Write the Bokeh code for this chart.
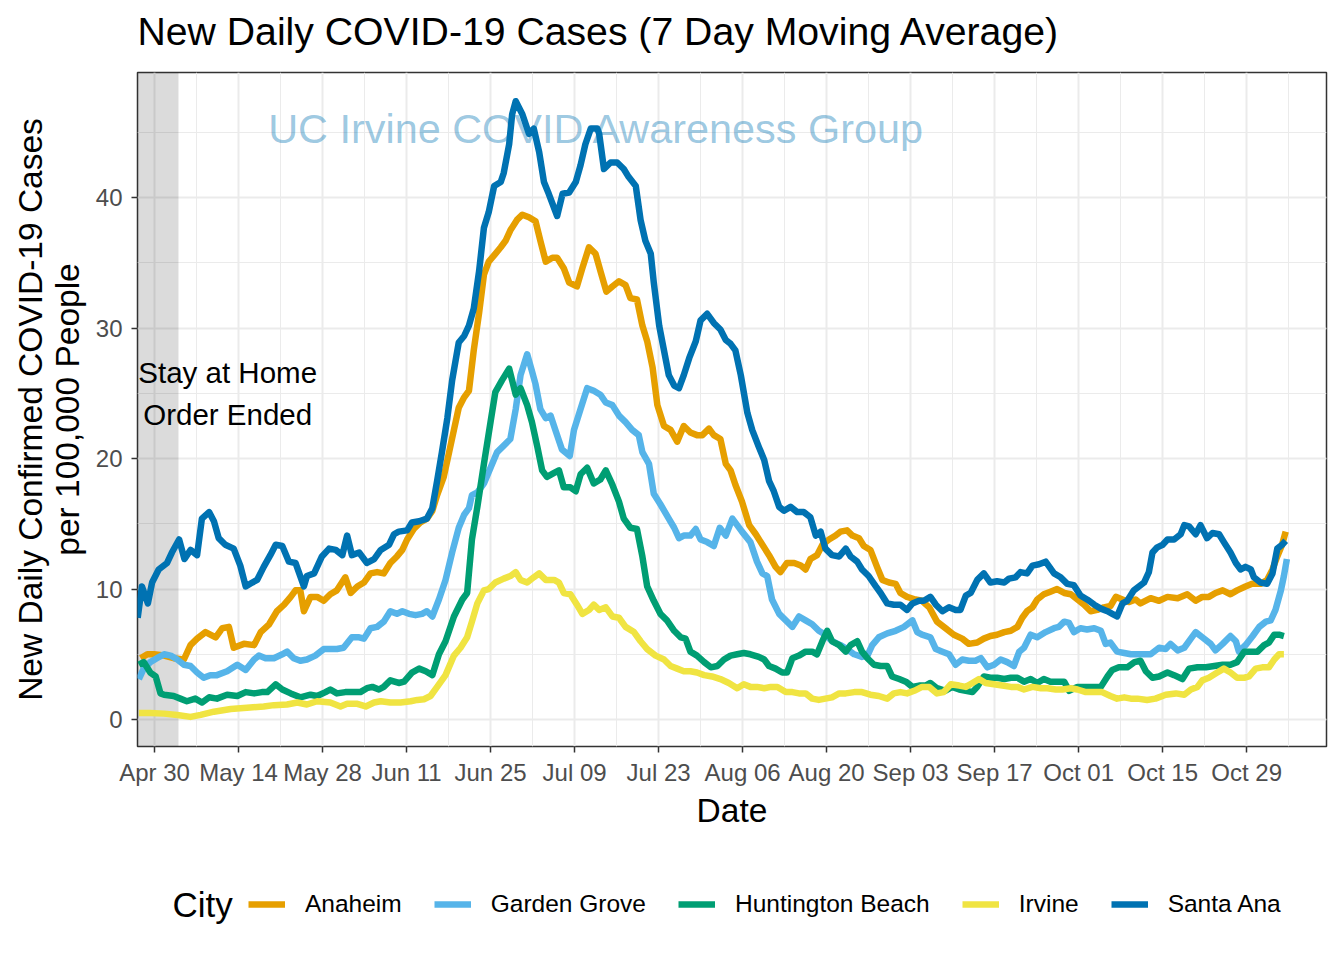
import pandas as pd
from bokeh.plotting import figure
from bokeh.layouts import column
from bokeh.models import (Label, Legend, LegendItem, FixedTicker, SingleIntervalTicker,
                          DatetimeTickFormatter, BoxAnnotation, Range1d)
from bokeh.embed import file_html
from bokeh.resources import INLINE

START = "2020-04-30"   # day 0 of the day offsets below

cities = ["Anaheim", "Garden Grove", "Huntington Beach", "Irvine", "Santa Ana"]
colors = ["#E69F00", "#56B4E9", "#009E73", "#F0E442", "#0072B2"]

anaheim_days = [-2.3, -1.2, -0.1, 1.6, 3.2, 4.9, 6, 7.1, 8.5, 10.2, 11.3, 12.4, 13.2, 14.9, 16.6, 17.7, 19.1, 20.4, 21.6, 22.7, 23.5, 24.3, 24.9, 26, 27.1, 28.2,
                29.3, 30.4, 31.8, 32.7, 33.8, 34.9, 36, 37.1, 38.2, 39.3, 40.4, 41.3, 42.1, 43.2, 44.3, 45.4, 46.3, 47.1, 48.2, 49.1, 49.9, 50.7, 51.6, 52.4, 53.2, 54.1, 54.9, 55.7, 56.8, 57.7, 58.5, 59.3, 60.4, 61.3, 62.4,
                63.5, 64.3, 65.2, 66.3, 67.1, 68.2, 69.1, 70.4, 71.3, 72.4, 73.5, 74.3, 75.3, 76.3, 77.4, 78.5, 79.3, 80.4, 81.3, 82.1, 83, 83.8, 84.9, 86, 87.1, 88.2, 89.3, 90.4, 91.3, 92.4, 93.2, 94.3, 95.2, 96,
                96.8, 97.9, 99.1, 100.2, 101.3, 102.4, 103.5, 104.3, 105.4, 106.6, 107.7, 108.5, 109.3, 110.4, 111.3, 112.4, 113.5, 114.3, 115.4, 116.3, 117.4, 118.2, 119.3, 120.4, 121.3, 122.4, 123.5, 124.3, 125.4, 126.8, 127.9, 129.1,
                130.4, 131.8, 133.2, 134.6, 135.7, 137.1, 138.2, 139.3, 140.4, 141.6, 142.7, 143.8, 144.6, 145.4, 146.3, 147.1, 148.2, 149.3, 150.4, 151.6, 152.7, 153.8, 154.9, 156, 157.1, 158.2, 159.3, 160.2, 161.3, 162.4, 163.5,
                164.3, 166, 167.4, 168.8, 170.5, 172.1, 173.5, 174.6, 175.7, 176.8, 178, 179.3, 180.4, 181.8, 182.9, 184.3, 185.4, 186.3, 187.1, 187.9, 188.5]
anaheim_vals = [4.7, 5.0, 5.0, 4.9, 4.7, 4.6, 5.7, 6.2, 6.7, 6.3, 7.0, 7.1, 5.5, 5.8, 5.7, 6.7, 7.3, 8.3, 8.8, 9.4, 9.9, 9.9, 8.3, 9.4, 9.4, 9.1,
                9.6, 9.9, 10.9, 9.7, 10.2, 10.5, 11.2, 11.3, 11.2, 12.0, 12.5, 13.0, 13.8, 14.6, 15.1, 15.4, 16.0, 17.2, 18.6, 20.5, 22.2, 23.9, 24.7, 25.2, 28.3, 31.2, 34.1, 35.1, 35.7, 36.2, 36.7, 37.5, 38.3, 38.7, 38.5,
                38.2, 36.7, 35.1, 35.4, 35.4, 34.6, 33.5, 33.2, 34.6, 36.2, 35.7, 34.4, 32.8, 33.2, 33.6, 33.3, 32.3, 32.2, 30.2, 29.0, 27.0, 24.1, 22.5, 22.2, 21.3, 22.5, 22.0, 21.8, 21.8, 22.3, 21.8, 21.5, 19.6, 19.1,
                18.0, 16.7, 14.9, 14.2, 13.4, 12.6, 11.7, 11.3, 12.0, 12.0, 11.8, 11.5, 12.3, 12.6, 13.4, 13.8, 14.1, 14.4, 14.5, 14.1, 13.9, 13.3, 13.0, 11.7, 10.7, 10.5, 10.4, 9.7, 9.4, 9.2, 9.1, 8.6,
                7.5, 7.0, 6.5, 6.2, 5.8, 5.9, 6.2, 6.4, 6.5, 6.7, 6.8, 7.1, 7.8, 8.3, 8.6, 9.2, 9.6, 9.8, 10.0, 9.7, 9.6, 9.2, 8.8, 8.3, 8.4, 8.6, 8.7, 9.4, 9.2, 9.0, 9.2,
                8.9, 9.3, 9.1, 9.4, 9.3, 9.6, 9.1, 9.4, 9.4, 9.7, 9.9, 9.6, 9.9, 10.2, 10.4, 10.4, 10.7, 11.5, 12.5, 13.4, 14.4]

garden_grove_days = [-2.6, -1.8, -0.7, 0.4, 1.6, 2.7, 3.8, 4.9, 6, 7.1, 8.2, 9.3, 10.4, 12.1, 13.8, 15.2, 16.6, 17.4, 18.5, 19.9, 21.3, 22.1, 23.2, 24.3, 25.4, 26.8, 28.2, 29.3,
                     30.4, 31.5, 32.9, 34.1, 34.9, 36, 37.1, 38.2, 39.3, 40.4, 41.3, 42.4, 43.5, 44.6, 45.4, 46.3, 47.4, 48.5, 49.6, 50.7, 51.6, 52.4, 52.9, 53.8, 54.9, 56, 57.1, 58.2, 59.3, 60.2, 61, 62.1, 62.9,
                     63.5, 64.3, 65.2, 66, 66.8, 67.9, 69.2, 69.9, 71, 72.1, 73.2, 74.3, 75.2, 76.3, 77.4, 78.5, 79.6, 80.7, 81.3, 82.4, 83.2, 84.3, 85.7, 86.6, 87.4, 88.2, 89.3, 90.2, 91, 92.1, 93.2, 94.2, 95.2, 96.3,
                     97.9, 99.3, 100.4, 101.3, 102.1, 102.9, 104.1, 105.2, 106.3, 107.4, 108.5, 109.6, 110.7, 111.8, 112.9, 114.3, 115.4, 116.6, 117.9, 118.8, 119.6, 120.7, 122.1, 123.5, 124.9, 126.3, 127.1, 127.9, 129.3,
                     130.2, 131.3, 132.4, 133.5, 134.6, 135.7, 136.8, 137.7, 138.8, 139.9, 141, 142.1, 143.2, 144.1, 144.9, 146, 147.1, 148.5, 149.9, 150.7, 151.6, 152.4, 153.2, 154.3, 155.4, 156.6, 157.7, 158.5, 159.3, 160.4, 161.6, 162.7,
                     164.3, 166, 167.4, 168.5, 169.3, 170.5, 171.6, 172.7, 173.5, 174.6, 176, 176.8, 178, 179.3, 180.2, 180.7, 181.8, 183, 184.1, 185.2, 186, 186.8, 187.7, 188.2, 188.7]
garden_grove_vals = [3.1, 3.9, 4.4, 4.7, 5.0, 4.9, 4.6, 4.2, 4.1, 3.6, 3.2, 3.4, 3.4, 3.7, 4.2, 3.8, 4.6, 4.9, 4.7, 4.7, 5.0, 5.2, 4.7, 4.5, 4.6, 4.9, 5.4, 5.4,
                     5.4, 5.5, 6.3, 6.3, 6.2, 7.0, 7.1, 7.5, 8.3, 8.1, 8.3, 8.1, 8.0, 8.1, 8.3, 7.9, 9.2, 10.7, 12.8, 14.7, 15.7, 16.2, 17.2, 17.4, 18.1, 19.3, 20.5, 21.0, 21.5, 23.8, 26.4, 28.0, 26.7,
                     25.7, 23.8, 23.1, 23.3, 22.2, 20.7, 20.2, 22.2, 23.8, 25.4, 25.2, 24.9, 24.3, 24.1, 23.3, 22.8, 22.2, 21.8, 20.5, 19.6, 17.3, 16.5, 15.4, 14.7, 13.9, 14.1, 14.1, 14.6, 13.8, 13.6, 13.3, 14.7, 14.1, 15.4,
                     14.4, 13.6, 12.1, 11.2, 11.0, 9.2, 8.1, 7.6, 7.1, 7.9, 7.6, 7.3, 6.8, 6.5, 6.0, 5.7, 5.4, 5.0, 4.8, 4.9, 5.7, 6.3, 6.6, 6.8, 7.1, 7.6, 6.7, 6.5, 6.3,
                     5.4, 5.2, 5.0, 4.2, 4.6, 4.5, 4.5, 4.7, 4.0, 4.2, 4.6, 4.4, 4.1, 5.2, 5.5, 6.5, 6.3, 6.7, 7.0, 7.1, 7.5, 7.4, 6.7, 7.0, 6.9, 7.0, 6.8, 5.8, 5.9, 5.2, 5.1, 5.0,
                     5.0, 5.0, 5.5, 5.4, 5.8, 5.3, 5.5, 6.2, 6.7, 6.3, 5.8, 5.3, 5.8, 6.4, 6.0, 5.2, 5.7, 6.4, 7.1, 7.5, 7.6, 8.4, 9.9, 11.0, 12.3]

huntington_beach_days = [-2.6, -1.8, -0.7, 0.2, 1, 1.6, 3.2, 4.3, 5.4, 6.8, 7.9, 9.1, 10.4, 12.1, 13.8, 15.2, 16.6, 17.9, 18.8, 20.2, 21.3, 22.7, 24.3, 26, 27.1, 28.5, 29.3,
                         30.4, 31.8, 33.2, 34.3, 35.4, 36.3, 37.4, 38.2, 39.3, 40.7, 41.6, 42.9, 44.1, 45.2, 46.3, 47.4, 48.5, 49.9, 51.3, 52.1, 52.9, 53.8, 54.9, 56, 56.8, 57.9, 59.1, 60.2, 61, 62.1, 62.9,
                         63.8, 64.6, 65.4, 66.6, 67.4, 68.2, 69.3, 70.2, 71, 72.1, 73.2, 74.3, 75.2, 76.3, 77.4, 78.2, 79.3, 80.4, 81.3, 82.1, 83.2, 84.3, 85.4, 86.6, 87.7, 88.5, 89.3, 90.4, 91.6, 92.7, 93.8, 94.9, 96,
                         97.1, 98.2, 99.3, 100.7, 101.6, 102.4, 103.5, 104.6, 105.4, 106.3, 107.4, 108.5, 109.6, 110.4, 111.3, 112.1, 112.9, 114.1, 115.2, 116, 117.1, 117.9, 118.8, 119.9, 121, 122.1, 122.9, 124.1, 125.2, 126.3, 127.4, 128.5, 129.3,
                         130.4, 131.8, 132.9, 134.1, 135.2, 136.3, 137.1, 138.2, 139.3, 140.4, 141.6, 142.7, 143.8, 144.9, 146, 147.1, 148.2, 149.3, 150.4, 151.6, 152.4, 153.8, 155.2, 156.6, 157.7, 158.8, 159.6, 160.7, 162.1,
                         163.3, 164.3, 165.2, 166.3, 167.4, 168.8, 169.9, 171.3, 172.4, 173.8, 175.2, 176.6, 178, 179.3, 180.4, 181.6, 182.7, 183.8, 184.9, 185.7, 186.6, 187.4, 188.2]
huntington_beach_vals = [4.2, 4.4, 3.6, 3.3, 2.0, 1.9, 1.8, 1.6, 1.4, 1.6, 1.3, 1.7, 1.6, 1.9, 1.8, 2.1, 2.0, 2.1, 2.1, 2.7, 2.3, 2.0, 1.7, 1.9, 1.8, 2.1, 2.3,
                         2.0, 2.1, 2.1, 2.1, 2.4, 2.5, 2.3, 2.5, 3.0, 2.8, 2.9, 3.6, 3.9, 3.7, 3.4, 5.0, 6.0, 7.9, 9.2, 9.7, 13.8, 16.3, 19.6, 22.8, 25.1, 26.0, 26.9, 24.9, 25.4, 24.1, 22.8,
                         20.9, 19.1, 18.6, 18.9, 19.1, 17.8, 17.8, 17.5, 18.8, 19.3, 18.1, 18.4, 19.1, 18.0, 16.7, 15.4, 14.7, 14.6, 12.5, 10.2, 9.1, 8.1, 7.6, 6.8, 6.3, 6.2, 5.2, 4.9, 4.4, 4.0, 4.1, 4.6, 4.9,
                         5.0, 5.1, 5.0, 4.8, 4.6, 4.1, 3.9, 3.6, 3.6, 4.7, 4.9, 5.2, 5.2, 5.0, 6.0, 6.8, 6.0, 5.7, 5.2, 5.7, 6.0, 5.2, 4.7, 4.2, 4.1, 4.1, 3.3, 3.1, 2.9, 2.5, 2.6, 2.6, 2.8,
                         2.4, 2.2, 2.5, 2.3, 2.2, 2.1, 2.5, 3.3, 3.2, 3.2, 3.1, 3.2, 3.2, 2.9, 3.1, 2.8, 3.1, 2.9, 2.9, 2.9, 2.2, 2.5, 2.5, 2.5, 2.5, 3.3, 3.8, 4.0, 4.0,
                         4.4, 4.5, 3.7, 3.2, 3.3, 3.6, 3.4, 3.1, 3.9, 4.0, 4.0, 4.1, 4.2, 4.2, 4.4, 5.2, 5.2, 5.2, 5.7, 5.9, 6.5, 6.5, 6.4]

irvine_days = [-2.6, -0.7, 1.6, 3.8, 6, 7.7, 9.9, 12.7, 15.4, 18.2, 19.9, 22.1, 23.8, 25.4, 27.1, 29.3,
               31, 32.1, 33.8, 35.2, 36.6, 37.7, 39.3, 41, 42.7, 43.8, 44.9, 46, 47.1, 48.5, 49.9, 51, 52.1, 52.9, 53.8, 54.9, 55.7, 56.8, 58.2, 59.3, 60.2, 61, 62.1, 63.2, 64.1,
               65.2, 66.6, 67.4, 68.2, 69.3, 70.4, 71.3, 72.4, 73.2, 74.1, 75.2, 76.3, 77.4, 78.5, 79.9, 81, 82.1, 83.5, 84.9, 86, 87.1, 88.2, 89.3, 90.4, 91.6, 92.9, 94.3, 95.7,
               97.1, 98.2, 99.3, 100.4, 101.6, 102.7, 103.8, 105.2, 106.3, 107.4, 108.5, 109.6, 110.7, 111.8, 112.9, 114.1, 115.2, 116.6, 117.9, 119.3, 120.7, 122.1, 123.2, 124.3, 125.4, 126.6, 127.9, 129.1,
               130.4, 131.5, 132.7, 134.1, 135.2, 136.3, 137.4, 138.5, 139.9, 141.3, 142.7, 143.8, 144.9, 146.3, 147.7, 148.8, 150.2, 151.3, 152.7, 153.8, 155.2, 156.6, 157.9, 159.3, 160.4, 161.6, 162.7, 163.8,
               165.4, 166.8, 168.5, 170.2, 171.6, 172.7, 173.8, 174.6, 175.7, 177.1, 178.2, 179.3, 180.4, 181.6, 182.4, 183.5, 184.6, 185.7, 186.6, 187.4, 188.2]
irvine_vals = [0.5, 0.5, 0.45, 0.35, 0.2, 0.35, 0.6, 0.8, 0.9, 1.0, 1.1, 1.15, 1.3, 1.15, 1.4, 1.3,
               1.0, 1.2, 1.2, 1.0, 1.3, 1.4, 1.3, 1.3, 1.4, 1.5, 1.55, 1.8, 2.5, 3.4, 4.9, 5.5, 6.3, 7.5, 8.9, 9.9, 10.0, 10.5, 10.8, 11.0, 11.3, 10.7, 10.5, 10.9, 11.2,
               10.7, 10.7, 10.5, 9.7, 9.6, 8.8, 8.1, 8.4, 8.8, 8.4, 8.6, 7.9, 7.8, 7.1, 6.7, 6.0, 5.4, 4.9, 4.6, 4.1, 3.9, 3.7, 3.7, 3.6, 3.4, 3.3, 3.1, 2.8,
               2.4, 2.7, 2.5, 2.5, 2.4, 2.5, 2.5, 2.1, 2.1, 2.0, 2.0, 1.6, 1.5, 1.6, 1.7, 2.0, 2.0, 2.1, 2.1, 1.9, 1.8, 1.6, 2.0, 2.1, 2.0, 2.2, 2.5, 2.5,
               2.0, 2.1, 2.7, 2.6, 2.5, 2.8, 3.1, 2.8, 2.7, 2.6, 2.5, 2.5, 2.3, 2.5, 2.4, 2.4, 2.3, 2.3, 2.4, 2.3, 2.1, 2.1, 2.1, 1.8, 1.6, 1.7, 1.6, 1.6,
               1.5, 1.6, 1.9, 2.0, 1.9, 2.3, 2.5, 3.0, 3.2, 3.6, 3.9, 3.6, 3.2, 3.2, 3.3, 3.9, 4.0, 4.0, 4.6, 5.0, 5.0]

santa_ana_days = [-2.8, -2.1, -1.1, -0.4, 0.7, 2.1, 2.9, 4.1, 5.0, 6.0, 7.1, 7.9, 9.1, 9.9, 10.7, 11.8, 13.2, 14.3, 15.2, 16.3, 17.1, 18.2, 19.3, 20.2, 21.3, 22.4, 23.5, 24.9, 25.4, 26.6, 27.9, 29.1,
                  30.2, 31.3, 32.1, 32.9, 34.1, 35.4, 36.6, 37.7, 39.1, 39.9, 40.7, 42.1, 42.9, 44.1, 45.4, 46.3, 47.1, 47.9, 48.8, 49.6, 50.7, 51.6, 52.4, 53.2, 54.1, 54.9, 55.7, 56.6, 57.7, 58.2, 59.1, 59.6, 60.2, 61.3, 62.4,
                  63.2, 64.1, 64.9, 65.7, 67.1, 68, 69.1, 70.2, 71, 71.8, 72.7, 73.8, 74.1, 74.9, 76, 77.1, 78.2, 79, 80.2, 81, 81.8, 82.7, 83.2, 84.1, 84.9, 85.7, 86.6, 87.4, 88.2, 89.1, 90.2, 91, 92.1, 93.2, 94.3, 95.2, 96,
                  96.8, 97.7, 98.8, 99.6, 100.7, 101.6, 102.4, 103.2, 104.1, 104.9, 106, 107.1, 108.2, 109.3, 110.2, 111, 111.8, 112.9, 114.1, 115.2, 116, 117.1, 117.9, 119, 120.2, 121, 122.1, 123.2, 124.3, 125.4, 126.3, 127.4, 128.2, 129.3,
                  130.2, 131.3, 132.4, 133.5, 134.3, 135.2, 136, 137.1, 138.2, 139.3, 140.4, 141.6, 142.4, 143.5, 144.3, 145.4, 146.3, 147.4, 148.5, 149.9, 151, 152.1, 153.2, 154.3, 155.4, 156.6, 157.7, 158.8, 159.6, 160.4, 161.3, 162.1, 163.2,
                  164.9, 165.7, 166.3, 167.1, 168, 168.8, 169.9, 171, 171.6, 172.4, 173.5, 174.3, 175.4, 176.3, 177.4, 178.2, 179.3, 180.2, 181, 181.8, 182.7, 183.2, 184.3, 185.4, 186.3, 187.1, 187.9, 188.5]
santa_ana_vals = [7.8, 10.2, 8.9, 10.5, 11.5, 12.0, 12.8, 13.8, 12.3, 13.0, 12.6, 15.4, 15.9, 15.2, 13.9, 13.4, 13.1, 11.8, 10.2, 10.5, 10.7, 11.7, 12.6, 13.4, 13.3, 12.1, 12.0, 10.2, 11.0, 11.2, 12.5, 13.1,
                  13.0, 12.6, 14.1, 12.6, 12.8, 12.0, 12.3, 13.0, 13.4, 14.2, 14.4, 14.5, 15.1, 15.2, 15.4, 16.2, 18.3, 20.5, 23.1, 26.0, 28.9, 29.4, 30.2, 31.5, 34.4, 37.7, 38.9, 40.9, 41.2, 41.9, 44.1, 46.4, 47.4, 46.4, 44.9,
                  45.3, 43.5, 41.2, 40.3, 38.6, 40.3, 40.4, 41.2, 42.5, 44.1, 45.3, 45.3, 44.9, 42.2, 42.7, 42.7, 42.2, 41.6, 40.9, 38.3, 36.7, 35.7, 33.5, 30.2, 28.3, 26.4, 25.6, 25.4, 26.4, 27.7, 29.0, 30.6, 31.1, 30.4, 29.9, 29.1, 28.8,
                  28.3, 26.4, 23.5, 22.2, 20.9, 19.9, 18.3, 17.5, 16.3, 16.0, 16.3, 15.9, 15.9, 15.5, 14.1, 14.4, 13.1, 12.6, 12.5, 13.1, 12.5, 12.1, 11.5, 11.0, 10.2, 9.7, 8.9, 8.8, 8.8, 8.4, 8.9, 9.1, 9.1, 9.4,
                  8.8, 8.3, 8.6, 8.4, 8.4, 9.5, 9.7, 10.7, 11.2, 10.5, 10.6, 10.5, 10.8, 10.9, 11.3, 11.2, 11.8, 11.9, 12.1, 11.2, 10.9, 10.4, 10.3, 9.5, 9.2, 8.8, 8.5, 8.3, 8.1, 7.9, 8.9, 9.1, 9.9,
                  10.5, 11.3, 12.8, 13.2, 13.4, 13.8, 13.8, 14.2, 14.9, 14.8, 14.2, 14.9, 13.9, 14.3, 14.2, 13.6, 12.8, 12.0, 11.5, 11.7, 11.5, 10.9, 10.5, 10.4, 11.2, 13.1, 13.4, 13.7]

series_days = [anaheim_days, garden_grove_days, huntington_beach_days, irvine_days, santa_ana_days]
series_vals = [anaheim_vals, garden_grove_vals, huntington_beach_vals, irvine_vals, santa_ana_vals]

tick_days = [0, 14, 28, 42, 56, 70, 84, 98, 112, 126, 140, 154, 168, 182]
order_end_day = 4          # end of shaded "stay at home" period (May 04)

t0 = pd.Timestamp(START)


def to_dt(days):
    return [t0 + pd.Timedelta(days=float(d)) for d in days]


def to_ms(d):
    return (t0 + pd.Timedelta(days=float(d))).value / 1e6


FONT = "Liberation Sans"
W = 1328
LW = 6.5
FRAME_L, FRAME_R = 137, 1326   # canvas px of the plotting frame


def strip(height):
    """A blank figure whose frame is aligned with the chart frame; data units = px."""
    s = figure(width=W, height=height, output_backend="svg", toolbar_location=None,
               min_border_left=FRAME_L, min_border_right=W - FRAME_R,
               min_border_top=0, min_border_bottom=0,
               x_range=Range1d(FRAME_L, FRAME_R), y_range=Range1d(0, height))
    s.axis.visible = False
    s.grid.visible = False
    s.outline_line_color = None
    s.background_fill_color = "white"
    s.border_fill_color = "white"
    return s


# ---------------- title strip ----------------
H0 = 62
ts = strip(H0)
ts.add_layout(Label(x=FRAME_L, y=H0 - 31, text="New Daily COVID-19 Cases (7 Day Moving Average)",
                    text_align="left", text_baseline="middle", text_font=FONT,
                    text_font_size="39.2px", text_color="black"))

# ---------------- main chart ----------------
p = figure(width=W, height=788, x_axis_type="datetime", output_backend="svg",
           toolbar_location=None, title=None, min_border_left=FRAME_L,
           min_border_right=W - FRAME_R, min_border_top=10, min_border_bottom=104)
p.x_range = Range1d(to_ms(-2.83), to_ms(195.3))
p.y_range = Range1d(-2.07, 49.6)

p.background_fill_color = "white"
p.border_fill_color = "white"
p.outline_line_color = "#333333"
p.outline_line_width = 1.5

xt = FixedTicker(ticks=[to_ms(d) for d in tick_days],
                 minor_ticks=[to_ms(d + 7) for d in [-14] + tick_days])
p.xaxis.ticker = xt
fmt = "%b %d"
p.xaxis.formatter = DatetimeTickFormatter(days=fmt, months=fmt, years=fmt, hours=fmt,
                                          hourmin=fmt, minutes=fmt, seconds=fmt)
p.yaxis.ticker = SingleIntervalTicker(interval=10, num_minor_ticks=2)

for ax in (p.xaxis[0], p.yaxis[0]):
    ax.axis_line_color = None
    ax.major_tick_line_color = "#333333"
    ax.major_tick_line_width = 1.5
    ax.major_tick_out = 6
    ax.major_tick_in = 0
    ax.minor_tick_line_color = None
    ax.major_label_text_font = FONT
    ax.major_label_text_font_size = "24px"
    ax.major_label_text_color = "#4d4d4d"
    ax.axis_label_text_font = FONT
    ax.axis_label_text_font_size = "33.5px"
    ax.axis_label_text_font_style = "normal"
    ax.axis_label_text_color = "black"

p.xaxis.axis_label = "Date"
p.xaxis.major_label_standoff = 6
p.xaxis.axis_label_standoff = 3
p.yaxis.axis_label = "New Daily Confirmed COVID-19 Cases\nper 100,000 People"
p.yaxis.axis_label_text_line_height = 1.0
p.yaxis.major_label_standoff = 9
p.yaxis.axis_label_standoff = 7

for g in (p.xgrid[0], p.ygrid[0]):
    g.grid_line_color = "#ebebeb"
    g.grid_line_width = 2
    g.minor_grid_line_color = "#ebebeb"
    g.minor_grid_line_width = 1

box = BoxAnnotation(right=to_ms(order_end_day), fill_color="black", fill_alpha=0.14,
                    line_color=None, level="underlay")
p.add_layout(box)

for city, col, dd, vv in zip(cities, colors, series_days, series_vals):
    p.line(to_dt(dd), vv, line_color=col, line_width=LW, line_join="round")

p.add_layout(Label(x=to_ms(12.2), y=25.0, text="Stay at Home\nOrder Ended",
                   text_align="center", text_baseline="middle", text_font=FONT,
                   text_font_size="29.5px", text_color="black", text_line_height=1.28))
p.add_layout(Label(x=to_ms(73.7), y=45.3, text="UC Irvine COVID Awareness Group",
                   text_align="center", text_baseline="middle", text_font=FONT,
                   text_font_size="41.4px", text_color="#0072B2", text_alpha=0.4))

# ---------------- legend strip ----------------
H2 = 100
lg = strip(H2)
items = []
for city, col in zip(cities, colors):
    # key-only renderer: its points lie outside the visible strip
    r = lg.line([-50, -40], [-50, -50], line_color=col, line_width=LW)
    items.append(LegendItem(label=city, renderers=[r]))

legend = Legend(items=items, orientation="horizontal", location=(248 - FRAME_L, 32),
                glyph_width=37, glyph_height=24, label_standoff=20, spacing=32,
                padding=0, margin=0, border_line_color=None, background_fill_alpha=0,
                label_text_font=FONT, label_text_font_size="24.5px", label_text_color="black")
lg.add_layout(legend)
lg.add_layout(Label(x=172, y=46, text="City", text_align="left", text_baseline="middle",
                    text_font=FONT, text_font_size="35px", text_color="black"))

layout = column(ts, p, lg, spacing=0)
open("out.html", "w").write(file_html(layout, INLINE))
